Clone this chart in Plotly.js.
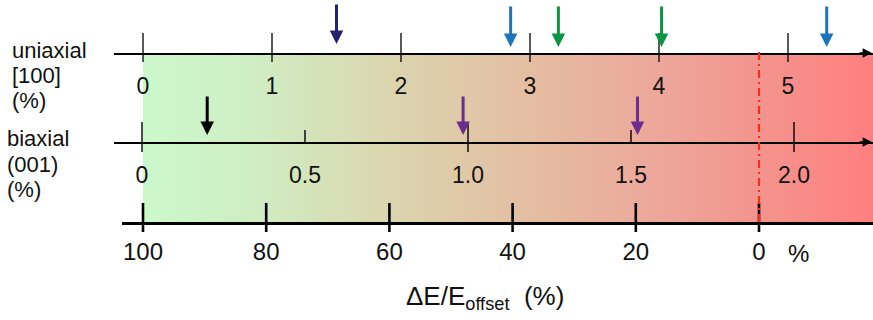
<!DOCTYPE html>
<html><head><meta charset="utf-8">
<script src="https://cdn.plot.ly/plotly-3.0.1.min.js"></script>
<style>html,body{margin:0;padding:0;background:#fff;}#chart{width:873px;height:320px;}</style>
</head><body><div id="chart"></div>
<script>
// ---------------- data ----------------
const uniaxialTicks = [0, 1, 2, 3, 4, 5];
const uniaxialTickLabels = ['0', '1', '2', '3', '4', '5'];
const biaxialMajorTicks = [0, 1.0, 2.0];
const biaxialMinorTicks = [0.5, 1.5];
const biaxialTickVals = [0, 0.5, 1.0, 1.5, 2.0];
const biaxialTickLabels = ['0', '0.5', '1.0', '1.5', '2.0'];
const offsetTicks = [100, 80, 60, 40, 20, 0];
const offsetTickLabels = ['100', '80', '60', '40', '20', '0'];
const uniaxialArrows = [1.50, 2.85, 3.22, 4.02, 5.30];
const uniaxialArrowColors = ['#25216b', '#1c75bc', '#0b9444', '#0b9444', '#1c75bc'];
const biaxialArrows = [0.20, 0.985, 1.52];
const biaxialArrowColors = ['#000000', '#6a2e91', '#6a2e91'];
const zeroOffset = 0;
const gradientColors = ['#ccf8cc', '#cfeec4', '#d8dcb4', '#dfcaa8', '#e6b8a0', '#eda69a', '#f4928c', '#ff7f7f'];

// ---------------- layout geometry ----------------
const W = 873, H = 320;
const fy = px => 1 - px / H;
function rangeFor(v0, p0, v1, p1, d0) {
  const k = (v1 - v0) / (p1 - p0);
  return [v0 + (d0 - p0) * k, v0 + (W - p0) * k];
}
const UNI = {line: 53, d0: 114, range: rangeFor(0, 143, 5, 788, 114)};
const BI = {line: 142, d0: 114, range: rangeFor(0, 142, 2, 794, 114)};
const OFF = {line: 223, d0: 122, range: rangeFor(100, 143, 0, 759, 122)};

const FONT = 'Liberation Sans, Arial, Helvetica, sans-serif';
const TXT = '#111111';

function tickSegments(vals, top, bottom) {
  const x = [], y = [];
  vals.forEach(v => { x.push(v, v, null); y.push(fy(top), fy(bottom), null); });
  return {x, y};
}

const traces = [];
// gradient background (on uniaxial axis)
const gx0 = uniaxialTicks[0];
const gx1 = UNI.range[1];
traces.push({
  type: 'scatter', mode: 'lines', xaxis: 'x', yaxis: 'y',
  x: [gx0, gx1, gx1, gx0, gx0],
  y: [fy(222), fy(222), fy(UNI.line), fy(UNI.line), fy(222)],
  fill: 'toself', line: {width: 0, color: 'rgba(0,0,0,0)'},
  fillgradient: {type: 'horizontal',
    colorscale: gradientColors.map((c, i) => [i / (gradientColors.length - 1), c])},
  hoverinfo: 'skip', showlegend: false
});
// uniaxial ticks
let s = tickSegments(uniaxialTicks, 33, 62);
traces.push({type: 'scatter', mode: 'lines', xaxis: 'x', yaxis: 'y', x: s.x, y: s.y,
  line: {color: '#000', width: 1.3}, hoverinfo: 'skip', showlegend: false});
// biaxial ticks
s = tickSegments(biaxialMajorTicks, 122, 152);
traces.push({type: 'scatter', mode: 'lines', xaxis: 'x2', yaxis: 'y', x: s.x, y: s.y,
  line: {color: '#000', width: 1.4}, hoverinfo: 'skip', showlegend: false});
s = tickSegments(biaxialMinorTicks, 130, 142);
traces.push({type: 'scatter', mode: 'lines', xaxis: 'x2', yaxis: 'y', x: s.x, y: s.y,
  line: {color: '#000', width: 1.4}, hoverinfo: 'skip', showlegend: false});
// offset ticks
s = tickSegments(offsetTicks, 203, 232);
traces.push({type: 'scatter', mode: 'lines', xaxis: 'x3', yaxis: 'y', x: s.x, y: s.y,
  line: {color: '#000', width: 2.6}, hoverinfo: 'skip', showlegend: false});

function xAxis(cfg, vals, labels, fontSize, standoff, lw) {
  return {
    domain: [cfg.d0 / W, 1], range: cfg.range, anchor: 'free', position: fy(cfg.line),
    showline: true, linecolor: '#000', linewidth: lw, showgrid: false, zeroline: false,
    ticks: '', tickmode: 'array', tickvals: vals, ticktext: labels,
    tickfont: {family: FONT, size: fontSize, color: TXT}, ticklabelstandoff: standoff,
    fixedrange: true
  };
}

const annotations = [];
function label(text, xpx, ypx, size) {
  annotations.push({xref: 'paper', yref: 'paper', x: xpx / W, y: fy(ypx), xanchor: 'left',
    yanchor: 'middle', text: text, showarrow: false, font: {family: FONT, size: size, color: TXT}});
}
label('uniaxial', 10, 50, 22);
label('[100]', 10, 75, 22);
label('(%)', 10, 100, 22);
label('biaxial', 5, 138, 22);
label('(001)', 5, 164, 22);
label('(%)', 5, 189, 22);
annotations.push({xref: 'paper', yref: 'paper', x: 798 / W, y: fy(253), xanchor: 'center',
  yanchor: 'middle', text: '%', showarrow: false, font: {family: FONT, size: 24, color: TXT}});
annotations.push({xref: 'paper', yref: 'paper', x: 485 / W, y: fy(297), xanchor: 'center',
  yanchor: 'middle', text: '\u0394E/E<sub>offset</sub>\u00A0 (%)', showarrow: false,
  font: {family: FONT, size: 26, color: TXT}});

function arrow(xref, v, color, tipY, tailY) {
  annotations.push({xref: xref, yref: 'paper', x: v, y: fy(tipY), ax: 0, ay: tailY - tipY,
    text: '', showarrow: true, arrowhead: 2, arrowsize: 0.9, arrowwidth: 3,
    arrowcolor: color, standoff: 0});
}
uniaxialArrows.forEach((v, i) => arrow('x', v, uniaxialArrowColors[i], i === 0 ? 44 : 47, i === 0 ? 3 : 5));
biaxialArrows.forEach((v, i) => arrow('x2', v, biaxialArrowColors[i], 135, 95));
// axis end arrow heads
[UNI.line, BI.line].forEach(ly => annotations.push({xref: 'paper', yref: 'paper',
  x: 872 / W, y: fy(ly), ax: -14, ay: 0, text: '', showarrow: true, arrowhead: 2,
  arrowsize: 1.1, arrowwidth: 1.7, arrowcolor: '#000', standoff: 0}));

const layout = {
  width: W, height: H, autosize: false,
  margin: {l: 0, r: 0, t: 0, b: 0, pad: 0},
  paper_bgcolor: '#ffffff', plot_bgcolor: 'rgba(0,0,0,0)',
  showlegend: false,
  xaxis: xAxis(UNI, uniaxialTicks, uniaxialTickLabels, 23, 12, 1.8),
  xaxis2: xAxis(BI, biaxialTickVals, biaxialTickLabels, 23, 12, 1.8),
  xaxis3: xAxis(OFF, offsetTicks, offsetTickLabels, 24, 6, 2.8),
  yaxis: {domain: [0, 1], range: [0, 1], visible: false, fixedrange: true},
  shapes: [{type: 'line', xref: 'x3', yref: 'paper', x0: zeroOffset, x1: zeroOffset,
    y0: fy(222), y1: fy(49), line: {color: '#ff2a10', width: 2.2, dash: '8px,4px,2px,4px'}}],
  annotations: annotations
};

Plotly.newPlot('chart', traces, layout, {displayModeBar: false, staticPlot: true});
</script>
</body></html>
